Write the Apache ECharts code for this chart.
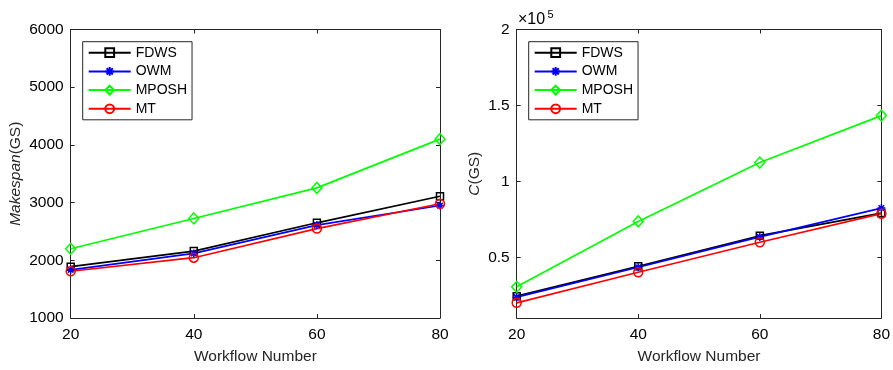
<!DOCTYPE html>
<html>
<head>
<meta charset="utf-8">
<script src="https://cdn.jsdelivr.net/npm/echarts@6/dist/echarts.min.js"></script>
<style>
  html, body { margin: 0; padding: 0; background: #fff; }
  #chart { width: 893px; height: 370px; }
</style>
</head>
<body>
<div id="chart"></div>
<script>
// workflow counts on the x axis
const workflows = [20, 40, 60, 80];
const seriesNames = ['FDWS', 'OWM', 'MPOSH', 'MT'];

// makespan (GS), left panel
const makespanFDWS = [1890, 2160, 2650, 3110];
const makespanOWM = [1835, 2120, 2610, 2950];
const makespanMPOSH = [2200, 2725, 3255, 4100];
const makespanMT = [1810, 2045, 2550, 2980];

// cost C (GS), right panel
const costFDWS = [24400, 44100, 64200, 79100];
const costOWM = [23700, 43400, 63400, 82400];
const costMPOSH = [30500, 73600, 112400, 143300];
const costMT = [20000, 40100, 59900, 78700];

const costTicks = [50000, 100000, 150000, 200000];

const font = 'Liberation Sans, Arial, sans-serif';
const axisColor = '#262626';

const looks = {
  FDWS: { color: '#000000', symbol: 'rect', size: 7 },
  OWM: { color: '#0000ff', symbol: 'path://M0,-5L0,5M-5,0L5,0M-3.5,-3.5L3.5,3.5M-3.5,3.5L3.5,-3.5', size: 8 },
  MPOSH: { color: '#00ff00', symbol: 'diamond', size: [10, 11] },
  MT: { color: '#ff0000', symbol: 'circle', size: 9 }
};

function makeSeries(name, values, idx) {
  const l = looks[name];
  return {
    name: name,
    type: 'line',
    xAxisIndex: idx * 2,
    yAxisIndex: idx * 2,
    data: workflows.map((w, i) => [w, values[i]]),
    symbol: l.symbol,
    symbolSize: l.size,
    showAllSymbol: true,
    lineStyle: { color: l.color, width: 1.7 },
    itemStyle: { color: 'rgba(0,0,0,0)', borderColor: l.color, borderWidth: 1.5 },
    emphasis: { disabled: true },
    animation: false,
    z: 3
  };
}

function xAxes(grid) {
  const base = {
    type: 'value', gridIndex: grid, min: 20, max: 80, interval: 20,
    splitLine: { show: false },
    axisLine: { show: true, lineStyle: { color: axisColor, width: 1 } },
    axisTick: { inside: true, length: 4, lineStyle: { color: axisColor } }
  };
  return [
    Object.assign({}, base, {
      position: 'bottom',
      name: 'Workflow Number', nameLocation: 'middle', nameGap: 31,
      nameTextStyle: { fontFamily: font, fontSize: 15.5, color: '#262626' },
      axisLabel: { fontFamily: font, fontSize: 15.5, color: '#000', margin: 9 }
    }),
    Object.assign({}, base, { position: 'top', axisLabel: { show: false } })
  ];
}

function yAxes(grid, opts) {
  const base = {
    type: 'value', gridIndex: grid, min: opts.min, max: opts.max,
    splitLine: { show: false },
    axisLine: { show: true, lineStyle: { color: axisColor, width: 1 } },
    axisTick: { inside: true, length: 4, lineStyle: { color: axisColor } }
  };
  if (opts.interval) base.interval = opts.interval;
  if (opts.ticks) {
    base.axisTick.customValues = opts.ticks;
  }
  const left = Object.assign({}, base, {
    position: 'left',
    name: opts.name, nameLocation: 'middle', nameGap: opts.nameGap,
    nameTextStyle: {
      fontFamily: font, fontSize: 15.5, color: '#262626',
      rich: { i: { fontStyle: 'italic', fontFamily: font, fontSize: 15.5, color: '#262626' } }
    },
    axisLabel: {
      fontFamily: font, fontSize: 15.5, color: '#000', margin: 7,
      formatter: opts.formatter
    }
  });
  if (opts.ticks) left.axisLabel.customValues = opts.ticks;
  const right = Object.assign({}, base, { position: 'right', axisLabel: { show: false } });
  return [left, right];
}

function legend(left) {
  return {
    data: seriesNames,
    orient: 'vertical',
    left: left, top: 41.7,
    itemWidth: 42, itemHeight: 11, itemGap: 4.7,
    padding: [4, 5, 4, 5],
    borderColor: '#262626', borderWidth: 1,
    backgroundColor: '#fff',
    textStyle: { fontFamily: font, fontSize: 14, color: '#000' },
    selectedMode: false
  };
}

const chart = echarts.init(document.getElementById('chart'), null, { renderer: 'canvas' });

chart.setOption({
  backgroundColor: '#fff',
  animation: false,
  grid: [
    { left: 70.7, right: 453, top: 29.5, bottom: 51 },
    { left: 516.7, right: 7.3, top: 29.5, bottom: 51 }
  ],
  xAxis: xAxes(0).concat(xAxes(1)),
  yAxis: yAxes(0, {
    min: 1000, max: 6000, interval: 1000,
    name: '{i|Makespan}(GS)', nameGap: 47,
    formatter: v => String(v)
  }).concat(yAxes(1, {
    min: 10000, max: 200000, ticks: costTicks,
    name: '{i|C}(GS)', nameGap: 34,
    formatter: v => String(v / 100000)
  })),
  legend: [legend(82.7), legend(528.7)],
  graphic: [
    { type: 'text', left: 518, top: 12, style: { text: '×10', font: '16px ' + font, fill: '#000' } },
    { type: 'text', left: 547.5, top: 9.5, style: { text: '5', font: '11px ' + font, fill: '#000' } }
  ],
  series: [
    makeSeries('FDWS', makespanFDWS, 0),
    makeSeries('OWM', makespanOWM, 0),
    makeSeries('MPOSH', makespanMPOSH, 0),
    makeSeries('MT', makespanMT, 0),
    makeSeries('FDWS', costFDWS, 1),
    makeSeries('OWM', costOWM, 1),
    makeSeries('MPOSH', costMPOSH, 1),
    makeSeries('MT', costMT, 1)
  ]
});
</script>
</body>
</html>
